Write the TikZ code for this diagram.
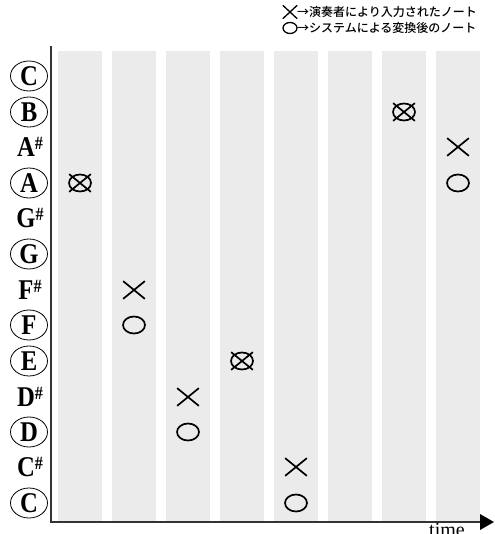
\documentclass[tikz,border=0pt]{standalone}
\usepackage{fontspec}
\usepackage{graphicx}
\setmainfont{Liberation Serif}
\newfontfamily\jpfont{Noto Sans CJK JP Medium}
\usetikzlibrary{shapes.geometric,shapes.misc}
\definecolor{barGray}{HTML}{EBEBEB}
\definecolor{axisGray}{HTML}{333333}
\newcommand{\tall}[1]{\scalebox{0.95}[1.1]{#1}}
\newcommand{\shp}[1]{\tall{#1\raisebox{7pt}{\fontsize{17}{17}\selectfont\#}}}
\begin{document}
\begin{tikzpicture}[x=1pt,y=-1pt,
  bar/.style={fill=barGray, draw=none},
  notelbl/.style={font=\fontsize{26}{26}\selectfont\bfseries, inner sep=0pt},
  circled/.style={notelbl, draw, ellipse, minimum width=37pt, minimum height=30pt, line width=0.8pt},
  xmk/.style={draw, cross out, line width=1.7pt, minimum width=20pt, minimum height=16pt, inner sep=0pt},
  omk/.style={draw, ellipse, line width=1.7pt, minimum width=22pt, minimum height=17pt, inner sep=0pt},
  lxmk/.style={draw, cross out, line width=1.3pt, minimum width=13pt, minimum height=12pt, inner sep=0pt},
  lomk/.style={draw, ellipse, line width=1.3pt, minimum width=14pt, minimum height=11pt, inner sep=0pt},
  legtxt/.style={font=\jpfont\fontsize{12}{12}\selectfont, inner sep=0pt, anchor=west},
  axis/.style={draw=axisGray, line width=1.5pt}
]
\useasboundingbox (0,0) rectangle (494,534);
% columns
\foreach \i in {0,...,7} {
  \fill[bar] (58+54*\i,51) rectangle (102+54*\i,522);
}
% axes
\coordinate (ytop) at (51,46);
\coordinate (orig) at (51,522);
\coordinate (xend) at (482,522);
\draw[axis] (ytop) -- (orig) -- (xend);
\fill[black] (480,514) -- (494,522) -- (480,530) -- cycle;
\node[font=\fontsize{20}{20}\selectfont, anchor=base, inner sep=0pt] (time) at (447,536) {time};
% row labels
\node[circled] (rC2) at (29,76) {\tall{C}};
\node[circled] (rB) at (29,112) {\tall{B}};
\node[notelbl] (rAs) at (30,147) {\shp{A}};
\node[circled] (rA) at (29,183) {\tall{A}};
\node[notelbl] (rGs) at (30,218) {\shp{G}};
\node[circled] (rG) at (29,254) {\tall{G}};
\node[notelbl] (rFs) at (30,290) {\shp{F}};
\node[circled] (rF) at (29,325) {\tall{F}};
\node[circled] (rE) at (29,361) {\tall{E}};
\node[notelbl] (rDs) at (30,397) {\shp{D}};
\node[circled] (rD) at (29,432) {\tall{D}};
\node[notelbl] (rCs) at (30,467) {\shp{C}};
\node[circled] (rC) at (29,503) {\tall{C}};
% markers
\node[xmk] (x1) at (80,183) {};
\node[omk] (o1) at (80,183) {};
\node[xmk] (x2) at (134,290) {};
\node[omk] (o2) at (134,325) {};
\node[xmk] (x3) at (188,397) {};
\node[omk] (o3) at (188,432) {};
\node[xmk] (x4) at (242,361) {};
\node[omk] (o4) at (242,361) {};
\node[xmk] (x5) at (296,467) {};
\node[omk] (o5) at (296,503) {};
\node[xmk] (x7) at (404,112) {};
\node[omk] (o7) at (404,112) {};
\node[xmk] (x8) at (458,147) {};
\node[omk] (o8) at (458,183) {};
% legend
\node[lxmk] (lx) at (290,12) {};
\node[lomk] (lo) at (290,28) {};
\node[legtxt] (lt1) at (297,12) {→演奏者により入力されたノート};
\node[legtxt] (lt2) at (297,28) {→システムによる変換後のノート};
\end{tikzpicture}
\end{document}
